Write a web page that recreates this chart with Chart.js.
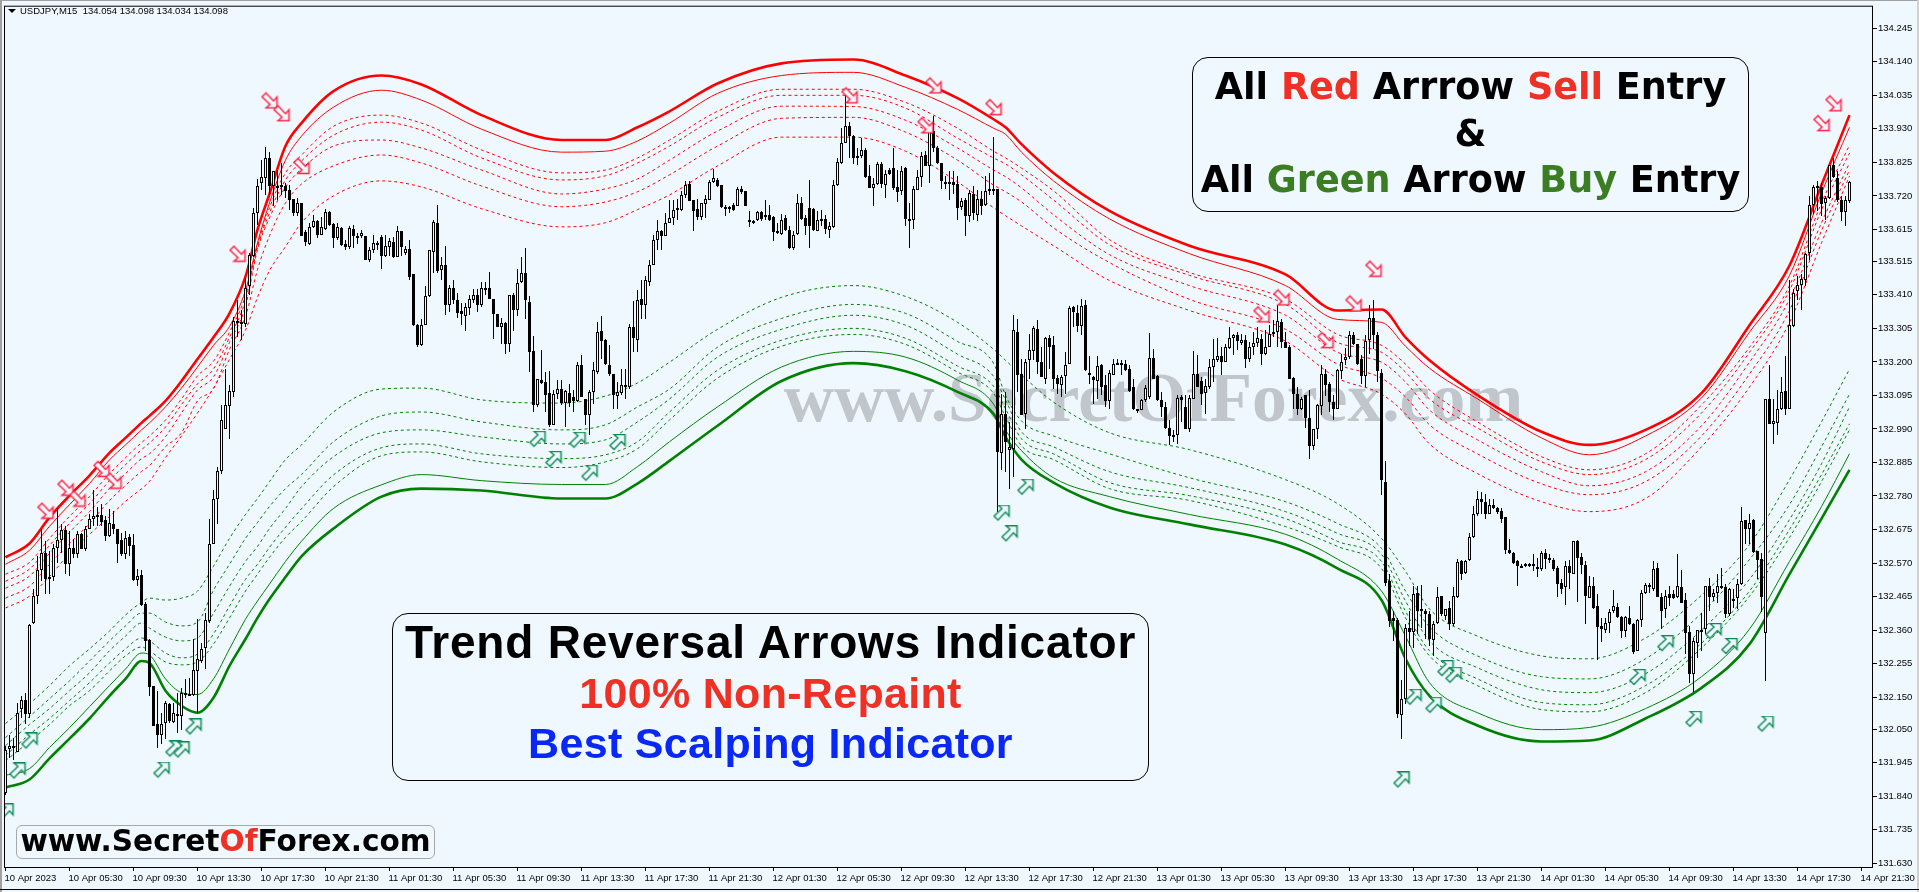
<!DOCTYPE html>
<html>
<head>
  <meta charset="UTF-8">
  <title>USDJPY M15 Trend Reversal Arrows</title>
  <script src="https://cdn.jsdelivr.net/npm/chart.js"></script>
  <style>
    html, body { margin: 0; height: 100%; overflow: hidden; background: #f0f8ff; }
    #wrap { position: relative; width: 1919px; height: 892px; background: #f0f8ff; }
    canvas#chart { position: absolute; left: 0; top: 0; }
    .edgeL { position: absolute; left: 0; top: 0; width: 2px; height: 892px; background: #a0a0a0; }
    .edgeR { position: absolute; left: 1917px; top: 0; width: 2px; height: 892px; background: #d0d0d0; }
    .edgeB { position: absolute; left: 0; top: 889px; width: 1919px; height: 1px; background: #000; }
    .edgeT { position: absolute; left: 0; top: 0; width: 1919px; height: 1px; background: #a0a0a0; }
    .watermark {
      position: absolute; left: 783px; top: 358px; width: 741px; text-align: center;
      font: bold 69.6px "Liberation Serif", serif; color: #c0c6cc; white-space: nowrap;
    }
    .box {
      position: absolute; box-sizing: border-box; border: 1px solid #000; border-radius: 16px;
      text-align: center; font-weight: bold; color: #000; white-space: nowrap;
    }
    #box1 { left: 1192px; top: 57px; width: 557px; height: 155px; font: bold 36.6px/46.5px "DejaVu Sans", sans-serif; padding-top: 6px; }
    #box2 { left: 392px; top: 613px; width: 757px; height: 168px; font: bold 46px/49.5px "Liberation Sans", sans-serif; letter-spacing: 0.8px; padding-top: 4px; }
    #box2 .s { font-size: 43px; letter-spacing: 0.3px; }
    #site {
      position: absolute; left: 16px; top: 825px; width: 419px; height: 34px; box-sizing: border-box;
      border: 1px solid #a8a8a8; border-radius: 6px; text-align: center;
      font: bold 29.6px/31px "DejaVu Sans", sans-serif; color: #000; white-space: nowrap;
    }
    .r { color: #ee3124; } .g { color: #3a7d23; } .b { color: #0a28f5; }
    #head { position: absolute; left: 20px; top: 5px; font: 9.5px "Liberation Sans", sans-serif; color: #000; white-space: pre; }
    #tri { position: absolute; left: 8px; top: 9px; width: 0; height: 0; border-left: 4px solid transparent; border-right: 4px solid transparent; border-top: 4px solid #000; }
  </style>
</head>
<body>
<div id="wrap">
  <div class="watermark">www.SecretOfForex.com</div>
  <canvas id="chart" width="1919" height="892"></canvas>
  <div class="edgeT"></div><div class="edgeL"></div><div class="edgeR"></div><div class="edgeB"></div>
  <div id="tri"></div>
  <div id="head">USDJPY,M15  134.054 134.098 134.034 134.098</div>
  <div class="box" id="box1">All <span class="r">Red</span> Arrrow <span class="r">Sell</span> Entry<br>&amp;<br>All <span class="g">Green</span> Arrow <span class="g">Buy</span> Entry</div>
  <div class="box" id="box2">Trend Reversal Arrows Indicator<br><span class="r s">100% Non-Repaint</span><br><span class="b s">Best Scalping Indicator</span></div>
  <div id="site">www.Secret<span class="r">Of</span>Forex.com</div>
</div>

<script>
// axis labels
const timeLabels = ['10 Apr 2023','10 Apr 05:30','10 Apr 09:30','10 Apr 13:30','10 Apr 17:30','10 Apr 21:30',
  '11 Apr 01:30','11 Apr 05:30','11 Apr 09:30','11 Apr 13:30','11 Apr 17:30','11 Apr 21:30',
  '12 Apr 01:30','12 Apr 05:30','12 Apr 09:30','12 Apr 13:30','12 Apr 17:30','12 Apr 21:30',
  '13 Apr 01:30','13 Apr 05:30','13 Apr 09:30','13 Apr 13:30','13 Apr 17:30','13 Apr 21:30',
  '14 Apr 01:30','14 Apr 05:30','14 Apr 09:30','14 Apr 13:30','14 Apr 17:30','14 Apr 21:30'];
const priceTicks = [134.245,134.140,134.035,133.930,133.825,133.720,133.615,133.515,133.410,133.305,133.200,133.095,132.990,
  132.885,132.780,132.675,132.570,132.465,132.360,132.255,132.150,132.050,131.945,131.840,131.735,131.630];

// candles
const highs = [
131.998,132.030,132.023,132.133,132.154,132.164,132.379,132.488,132.591,132.675,
132.638,132.607,132.628,132.741,132.691,132.685,132.669,132.644,132.669,132.663,
132.685,132.725,132.800,132.744,132.756,132.716,132.738,132.734,132.678,132.663,
132.669,132.660,132.660,132.550,132.547,132.447,132.332,132.186,132.170,132.101,
132.139,132.133,132.133,132.164,132.179,132.207,132.210,132.332,132.394,132.320,
132.413,132.709,132.800,132.872,133.065,133.177,133.127,133.340,133.393,133.364,
133.464,133.542,133.683,133.773,133.832,133.873,133.857,133.798,133.801,133.823,
133.761,133.754,133.711,133.714,133.698,133.614,133.636,133.661,133.645,133.655,
133.680,133.673,133.636,133.636,133.623,133.583,133.626,133.630,133.605,133.614,
133.595,133.561,133.598,133.580,133.598,133.598,133.589,133.592,133.626,133.611,
133.564,133.583,133.474,133.318,133.333,133.439,133.552,133.645,133.692,133.527,
133.564,133.442,133.458,133.417,133.386,133.386,133.411,133.427,133.427,133.449,
133.449,133.483,133.395,133.349,133.339,133.324,133.411,133.417,133.492,133.527,
133.558,133.405,133.280,133.146,133.236,133.168,133.171,133.112,133.143,133.143,
133.112,133.131,133.112,133.199,133.221,133.084,133.112,133.199,133.324,133.343,
133.271,133.252,133.162,133.137,133.177,133.177,133.318,133.392,133.424,133.455,
133.470,133.520,133.598,133.645,133.614,133.667,133.708,133.708,133.711,133.736,
133.767,133.767,133.708,133.711,133.698,133.723,133.770,133.804,133.776,133.754,
133.692,133.689,133.698,133.748,133.751,133.736,133.673,133.645,133.673,133.673,
133.708,133.692,133.658,133.636,133.664,133.661,133.626,133.611,133.726,133.717,
133.661,133.770,133.683,133.673,133.676,133.661,133.639,133.770,133.839,133.932,
134.048,133.951,133.910,133.870,133.901,133.870,133.817,133.776,133.826,133.826,
133.801,133.807,133.870,133.801,133.814,133.811,133.698,133.751,133.801,133.857,
133.860,133.932,133.970,133.876,133.823,133.782,133.798,133.798,133.782,133.714,
133.714,133.739,133.751,133.739,133.736,133.782,133.792,133.904,133.742,133.099,
133.106,133.012,133.346,133.333,133.209,133.209,133.286,133.311,133.330,133.246,
133.277,133.283,133.280,133.159,133.159,133.230,133.374,133.374,133.377,133.396,
133.393,133.218,133.155,133.218,133.193,133.159,133.174,133.209,133.209,133.205,
133.205,133.190,133.146,133.053,133.084,133.127,133.290,133.240,133.159,133.106,
133.074,133.018,132.987,133.096,133.096,133.096,133.096,133.233,133.221,133.152,
133.146,133.209,133.271,133.274,133.246,133.255,133.308,133.286,133.293,133.286,
133.283,133.261,133.293,133.308,133.286,133.299,133.315,133.330,133.377,133.333,
133.293,133.252,133.152,133.121,133.090,133.096,133.112,132.990,133.068,133.190,
133.177,133.137,133.096,133.177,133.224,133.243,133.296,133.293,133.255,133.221,
133.283,133.377,133.393,133.293,133.177,132.890,132.535,132.419,132.398,132.204,
132.379,132.419,132.497,132.497,132.501,132.426,132.419,132.388,132.494,132.466,
132.426,132.451,132.494,132.582,132.579,132.579,132.663,132.750,132.797,132.791,
132.787,132.772,132.769,132.744,132.741,132.713,132.644,132.603,132.579,132.566,
132.569,132.569,132.597,132.585,132.607,132.613,132.597,132.585,132.560,132.519,
132.575,132.579,132.638,132.641,132.600,132.575,132.529,132.525,132.472,132.398,
132.398,132.426,132.485,132.444,132.404,132.404,132.435,132.382,132.394,132.485,
132.507,132.507,132.575,132.569,132.476,132.485,132.497,132.485,132.597,132.547,
132.476,132.373,132.335,132.360,132.413,132.497,132.522,132.488,132.535,132.553,
132.504,132.491,132.488,132.519,132.747,132.706,132.725,132.709,132.607,132.600,
133.084,133.190,133.084,133.112,133.152,133.218,133.455,133.427,133.470,133.474,
133.542,133.720,133.754,133.767,133.761,133.720,133.817,133.839,133.798,133.720,133.720,133.767];

const lows = [
131.842,131.958,131.952,131.977,132.086,132.067,132.086,132.379,132.441,132.513,
132.472,132.472,132.513,132.569,132.600,132.535,132.529,132.585,132.585,132.613,
132.607,132.675,132.685,132.685,132.685,132.638,132.653,132.660,132.569,132.591,
132.582,132.591,132.513,132.497,132.435,132.295,132.154,132.061,131.992,132.004,
132.020,132.070,132.070,132.036,132.048,132.148,132.154,132.154,132.101,132.257,
132.238,132.382,132.628,132.691,132.850,132.990,132.959,133.090,133.277,133.268,
133.308,133.408,133.527,133.630,133.739,133.723,133.723,133.689,133.708,133.723,
133.714,133.676,133.658,133.658,133.595,133.564,133.567,133.620,133.589,133.598,
133.614,133.626,133.558,133.583,133.564,133.552,133.555,133.558,133.570,133.589,
133.520,133.514,133.542,133.549,133.492,133.527,133.533,133.524,133.527,133.533,
133.536,133.458,133.311,133.246,133.249,133.315,133.402,133.480,133.480,133.455,
133.346,133.355,133.380,133.339,133.315,133.296,133.346,133.386,133.355,133.371,
133.408,133.396,133.271,133.308,133.255,133.224,133.230,133.296,133.343,133.446,
133.333,133.168,133.043,133.059,133.131,133.043,132.996,133.003,133.084,133.065,
132.996,133.059,133.043,133.074,133.090,133.003,132.971,133.068,133.162,133.209,
133.190,133.155,133.053,133.053,133.096,133.084,133.115,133.230,133.230,133.333,
133.333,133.439,133.502,133.552,133.552,133.595,133.636,133.630,133.645,133.673,
133.714,133.704,133.611,133.645,133.645,133.651,133.708,133.761,133.748,133.683,
133.658,133.667,133.673,133.689,133.726,133.689,133.623,133.633,133.642,133.642,
133.645,133.642,133.580,133.602,133.598,133.611,133.555,133.552,133.598,133.645,
133.598,133.558,133.611,133.611,133.626,133.602,133.589,133.620,133.751,133.820,
133.885,133.839,133.820,133.817,133.839,133.776,133.745,133.689,133.754,133.745,
133.714,133.786,133.739,133.701,133.723,133.626,133.558,133.617,133.739,133.748,
133.814,133.761,133.857,133.820,133.742,133.742,133.708,133.726,133.645,133.676,
133.595,133.639,133.645,133.642,133.661,133.689,133.723,133.723,132.731,132.862,
132.856,132.803,132.840,133.106,133.034,132.990,133.146,133.205,133.162,133.152,
133.131,133.177,133.115,133.099,133.090,133.099,133.193,133.308,133.293,133.283,
133.171,133.131,133.068,133.084,133.096,133.059,133.053,133.159,133.190,133.159,
133.171,133.106,133.049,133.040,133.049,133.074,133.084,133.146,133.077,133.028,
132.990,132.940,132.950,132.943,133.012,132.990,132.981,133.084,133.121,133.065,
133.037,133.115,133.137,133.199,133.159,133.199,133.240,133.221,133.237,133.252,
133.180,133.199,133.221,133.246,133.190,133.221,133.246,133.277,133.246,133.243,
133.243,133.146,133.053,133.034,133.049,132.993,132.897,132.925,132.959,133.034,
133.093,133.043,133.018,133.053,133.146,133.190,133.209,133.252,133.190,133.131,
133.121,133.224,133.240,133.137,132.784,132.497,132.370,132.326,132.086,132.020,
132.129,132.310,132.304,132.348,132.366,132.332,132.310,132.279,132.379,132.404,
132.391,132.360,132.373,132.460,132.516,132.535,132.575,132.647,132.716,132.722,
132.709,132.722,132.738,132.722,132.694,132.597,132.597,132.566,132.497,132.553,
132.557,132.557,132.544,132.525,132.544,132.550,132.569,132.544,132.463,132.472,
132.438,132.488,132.535,132.447,132.535,132.379,132.460,132.426,132.267,132.323,
132.351,132.351,132.413,132.398,132.335,132.338,132.376,132.285,132.295,132.370,
132.472,132.476,132.482,132.463,132.363,132.398,132.435,132.457,132.460,132.444,
132.285,132.195,132.167,132.273,132.295,132.348,132.419,132.451,132.444,132.488,
132.398,132.404,132.429,132.426,132.501,132.628,132.628,132.600,132.519,132.416,
132.201,133.006,132.943,132.971,133.049,133.034,133.053,133.308,133.393,133.361,
133.439,133.520,133.664,133.673,133.658,133.645,133.711,133.776,133.701,133.642,133.626,133.698];

const opens = [
131.849,131.986,131.995,131.977,132.114,132.142,132.098,132.382,132.466,132.547,
132.600,132.519,132.525,132.616,132.641,132.672,132.566,132.616,132.597,132.660,
132.613,132.678,132.709,132.713,132.719,132.706,132.656,132.691,132.675,132.641,
132.597,132.650,132.625,132.516,132.532,132.441,132.329,132.186,132.067,132.030,
132.070,132.129,132.073,132.098,132.092,132.161,132.158,132.158,132.232,132.263,
132.304,132.388,132.631,132.772,132.859,132.990,133.062,133.106,133.327,133.321,
133.318,133.439,133.533,133.667,133.761,133.776,133.839,133.751,133.751,133.751,
133.751,133.739,133.711,133.667,133.698,133.608,133.570,133.623,133.642,133.598,
133.617,133.670,133.633,133.589,133.620,133.570,133.561,133.617,133.595,133.595,
133.595,133.520,133.549,133.570,133.592,133.533,133.561,133.577,133.530,133.611,
133.542,133.555,133.474,133.315,133.252,133.315,133.405,133.545,133.636,133.489,
133.505,133.377,133.430,133.393,133.358,133.343,133.368,133.393,133.411,133.377,
133.430,133.433,133.396,133.349,133.308,133.321,133.255,133.408,133.361,133.449,
133.480,133.389,133.234,133.065,133.143,133.137,133.102,133.003,133.099,133.115,
133.071,133.102,133.090,133.077,133.190,133.084,133.034,133.106,133.168,133.296,
133.268,133.190,133.162,133.093,133.102,133.124,133.121,133.308,133.268,133.396,
133.377,133.449,133.505,133.583,133.611,133.595,133.636,133.651,133.683,133.676,
133.723,133.757,133.708,133.680,133.655,133.695,133.708,133.764,133.770,133.754,
133.686,133.686,133.692,133.689,133.742,133.736,133.645,133.642,133.645,133.670,
133.661,133.661,133.655,133.611,133.602,133.651,133.614,133.558,133.602,133.698,
133.651,133.683,133.680,133.611,133.648,133.648,133.614,133.623,133.754,133.823,
133.885,133.938,133.907,133.845,133.845,133.864,133.782,133.745,133.757,133.820,
133.754,133.801,133.807,133.748,133.736,133.807,133.648,133.645,133.739,133.779,
133.848,133.814,133.923,133.870,133.823,133.764,133.764,133.764,133.757,133.686,
133.708,133.658,133.726,133.661,133.711,133.692,133.736,133.742,133.742,132.915,
133.037,132.925,132.928,133.293,133.162,133.037,133.205,133.233,133.302,133.199,
133.146,133.274,133.252,133.149,133.127,133.155,133.193,133.371,133.352,133.311,
133.377,133.165,133.152,133.140,133.190,133.127,133.077,133.159,133.193,133.196,
133.193,133.177,133.121,133.053,133.049,133.081,133.090,133.212,133.155,133.081,
133.059,132.993,132.971,132.971,133.090,133.059,132.990,133.084,133.162,133.140,
133.102,133.121,133.184,133.205,133.218,133.199,133.243,133.274,133.283,133.258,
133.268,133.209,133.246,133.258,133.271,133.224,133.246,133.290,133.293,133.324,
133.261,133.246,133.149,133.099,133.053,133.096,133.025,132.937,132.990,133.062,
133.162,133.131,133.074,133.053,133.171,133.205,133.215,133.283,133.255,133.209,
133.155,133.268,133.339,133.283,133.165,132.825,132.513,132.398,132.391,132.095,
132.145,132.366,132.354,132.476,132.426,132.419,132.410,132.329,132.382,132.466,
132.404,132.429,132.379,132.463,132.575,132.538,132.579,132.650,132.725,132.772,
132.762,132.725,132.753,132.741,132.734,132.713,132.610,132.600,132.575,132.560,
132.560,132.560,132.566,132.557,132.550,132.600,132.585,132.579,132.553,132.507,
132.494,132.560,132.535,132.638,132.588,132.563,132.460,132.497,132.435,132.373,
132.360,132.382,132.419,132.432,132.401,132.357,132.398,132.379,132.295,132.391,
132.476,132.501,132.488,132.553,132.463,132.426,132.472,132.472,132.463,132.494,
132.454,132.354,132.223,132.320,132.360,132.363,132.497,132.463,132.476,132.497,
132.494,132.410,132.454,132.460,132.504,132.706,132.675,132.706,132.607,132.582,
132.351,133.084,133.006,133.009,133.053,133.109,133.053,133.311,133.421,133.442,
133.458,133.542,133.692,133.751,133.748,133.698,133.714,133.817,133.776,133.708,133.670,133.704];

const closes = [
131.983,131.998,131.998,132.101,132.142,132.098,132.376,132.466,132.547,132.600,
132.519,132.525,132.616,132.641,132.672,132.566,132.616,132.597,132.660,132.613,
132.678,132.709,132.716,132.719,132.700,132.656,132.694,132.675,132.631,132.597,
132.647,132.622,132.516,132.529,132.438,132.326,132.182,132.061,132.030,132.067,
132.133,132.076,132.101,132.092,132.164,132.164,132.161,132.235,132.270,132.301,
132.391,132.631,132.769,132.859,133.018,133.065,133.109,133.327,133.321,133.324,
133.433,133.536,133.667,133.751,133.779,133.839,133.751,133.798,133.748,133.754,
133.736,133.708,133.667,133.698,133.595,133.577,133.623,133.642,133.598,133.623,
133.670,133.630,133.589,133.623,133.567,133.561,133.620,133.595,133.592,133.605,
133.520,133.552,133.573,133.573,133.533,133.564,133.580,133.527,133.611,133.561,
133.555,133.467,133.315,133.252,133.315,133.405,133.549,133.639,133.486,133.502,
133.377,133.430,133.393,133.352,133.349,133.371,133.396,133.411,133.377,133.433,
133.427,133.396,133.349,133.308,133.321,133.255,133.408,133.361,133.446,133.480,
133.393,133.230,133.065,133.146,133.134,133.096,133.003,133.099,133.115,133.071,
133.109,133.071,133.077,133.190,133.090,133.034,133.106,133.174,133.293,133.265,
133.193,133.162,133.096,133.106,133.127,133.127,133.308,133.274,133.393,133.377,
133.455,133.505,133.583,133.611,133.595,133.636,133.651,133.676,133.676,133.723,
133.754,133.704,133.673,133.655,133.698,133.711,133.764,133.776,133.751,133.686,
133.683,133.683,133.676,133.742,133.733,133.689,133.639,133.639,133.670,133.648,
133.658,133.645,133.608,133.608,133.645,133.614,133.558,133.598,133.698,133.648,
133.626,133.626,133.614,133.645,133.645,133.617,133.626,133.754,133.826,133.885,
133.938,133.907,133.839,133.839,133.864,133.779,133.745,133.757,133.820,133.757,
133.789,133.789,133.745,133.733,133.798,133.648,133.645,133.742,133.779,133.845,
133.814,133.923,133.870,133.823,133.767,133.761,133.761,133.754,133.683,133.704,
133.658,133.729,133.667,133.711,133.689,133.736,133.742,133.739,132.918,133.037,
132.950,132.934,133.299,133.159,133.034,133.199,133.236,133.305,133.199,133.152,
133.274,133.246,133.146,133.131,133.152,133.190,133.368,133.355,133.311,133.374,
133.174,133.159,133.143,133.187,133.121,133.077,133.165,133.193,133.196,133.193,
133.174,133.109,133.053,133.046,133.081,133.118,133.212,133.146,133.081,133.059,
132.993,132.968,132.965,133.087,133.081,132.990,133.087,133.162,133.121,133.099,
133.124,133.184,133.209,133.218,133.199,133.246,133.274,133.283,133.265,133.268,
133.209,133.246,133.258,133.274,133.224,133.246,133.286,133.293,133.327,133.261,
133.243,133.146,133.099,133.053,133.084,133.025,132.937,132.990,133.065,133.162,
133.127,133.074,133.053,133.174,133.199,133.215,133.283,133.255,133.193,133.155,
133.265,133.336,133.283,133.171,132.831,132.507,132.388,132.388,132.098,132.145,
132.366,132.354,132.472,132.419,132.419,132.410,132.332,132.379,132.463,132.410,
132.426,132.379,132.466,132.572,132.535,132.575,132.650,132.725,132.772,132.762,
132.725,132.753,132.741,132.731,132.709,132.610,132.600,132.569,132.560,132.557,
132.566,132.566,132.560,132.550,132.600,132.582,132.579,132.550,132.504,132.488,
132.560,132.538,132.638,132.585,132.563,132.466,132.497,132.429,132.370,132.363,
132.382,132.416,132.435,132.401,132.357,132.401,132.379,132.292,132.391,132.476,
132.501,132.497,132.550,132.463,132.419,132.466,132.460,132.460,132.497,132.444,
132.351,132.223,132.326,132.360,132.357,132.497,132.463,132.476,132.497,132.491,
132.410,132.488,132.457,132.504,132.703,132.675,132.694,132.603,132.579,132.463,
133.084,133.006,133.015,133.053,133.106,133.053,133.315,133.417,133.442,133.461,
133.539,133.692,133.748,133.745,133.695,133.714,133.817,133.779,133.708,133.670,133.708,133.764];

// indicator bands, sampled at these bars
const bandBars = [0,6,11,16,21,26,30,34,36,40,44,48,52,56,60,63,66,70,74,82,94,104,119,139,150,158,166,178,194,212,
  225,238,247,250,254,262,276,296,320,333,344,350,356,368,384,396,410,424,436,446,454,461];
const redOuter = [132.588,132.631,132.713,132.781,132.844,132.915,132.962,133.009,133.031,133.078,133.140,133.209,133.277,133.352,133.467,133.614,133.726,133.876,133.948,134.048,
  134.097,134.069,133.973,133.895,133.895,133.935,133.985,134.072,134.135,134.147,134.097,134.026,133.960,133.935,133.882,133.792,133.673,133.564,133.474,133.361,
  133.364,133.277,133.205,133.096,132.981,132.940,132.987,133.102,133.315,133.502,133.754,133.973];
const redInner = [132.566,132.610,132.685,132.753,132.819,132.893,132.940,132.987,133.009,133.059,133.118,133.184,133.252,133.311,133.424,133.573,133.698,133.832,133.907,133.998,
  134.051,134.020,133.929,133.857,133.860,133.892,133.948,134.041,134.097,134.107,134.060,133.991,133.932,133.913,133.857,133.767,133.648,133.539,133.439,133.333,
  133.324,133.249,133.180,133.084,132.962,132.909,132.968,133.087,133.293,133.471,133.729,133.935];
const redDash1 = [132.535,132.572,132.647,132.716,132.778,132.850,132.900,132.947,132.968,133.018,133.084,133.156,133.202,133.293,133.408,133.564,133.683,133.792,133.848,133.938,
  133.973,133.948,133.864,133.792,133.801,133.839,133.895,133.985,134.054,134.054,134.013,133.932,133.860,133.839,133.807,133.736,133.583,133.480,133.396,133.286,
  133.252,133.193,133.112,133.012,132.903,132.862,132.912,133.065,133.246,133.439,133.698,133.879];
const redDash2 = [132.513,132.551,132.625,132.694,132.756,132.828,132.878,132.925,132.946,132.996,133.066,133.131,133.178,133.277,133.392,133.558,133.667,133.770,133.829,133.910,
  133.951,133.926,133.839,133.770,133.783,133.823,133.876,133.966,134.035,134.035,133.995,133.901,133.839,133.820,133.786,133.707,133.567,133.471,133.380,133.261,
  133.230,133.168,133.084,132.993,132.887,132.847,132.894,133.040,133.230,133.424,133.676,133.854];
const redDash3 = [132.491,132.529,132.600,132.666,132.731,132.803,132.850,132.897,132.912,132.966,133.040,133.112,133.153,133.261,133.374,133.552,133.651,133.748,133.804,133.876,
  133.895,133.870,133.801,133.726,133.742,133.773,133.832,133.923,134.001,134.000,133.957,133.870,133.801,133.780,133.745,133.661,133.536,133.439,133.346,133.230,
  133.199,133.137,133.049,132.956,132.856,132.812,132.856,133.000,133.199,133.396,133.636,133.823];
const redDash4 = [132.460,132.497,132.566,132.631,132.694,132.766,132.813,132.857,132.875,132.934,132.978,133.078,133.116,133.239,133.342,133.489,133.595,133.698,133.757,133.814,
  133.848,133.823,133.751,133.686,133.701,133.733,133.786,133.876,133.963,133.966,133.920,133.832,133.754,133.733,133.701,133.620,133.511,133.396,133.302,133.193,
  133.149,133.090,133.003,132.912,132.818,132.784,132.825,132.968,133.162,133.361,133.611,133.801];
const redDash5 = [132.429,132.466,132.528,132.600,132.660,132.716,132.763,132.803,132.826,132.900,132.968,133.040,133.118,133.208,133.299,133.402,133.486,133.561,133.636,133.720,
  133.767,133.748,133.680,133.623,133.636,133.677,133.723,133.814,133.904,133.904,133.860,133.764,133.683,133.658,133.626,133.564,133.455,133.361,133.265,133.149,
  133.099,133.037,132.943,132.850,132.762,132.731,132.772,132.934,133.121,133.324,133.573,133.782];
const greenOuter = [131.867,131.892,131.958,132.020,132.083,132.154,132.207,132.263,132.257,132.170,132.123,132.101,132.148,132.248,132.332,132.398,132.457,132.526,132.591,132.678,
  132.778,132.803,132.797,132.772,132.772,132.819,132.890,133.000,133.140,133.196,133.171,133.106,133.037,132.965,132.894,132.822,132.744,132.691,132.628,132.553,
  132.454,132.270,132.154,132.061,132.011,132.014,132.083,132.179,132.316,132.535,132.709,132.862];
const greenInner = [131.905,131.926,131.992,132.054,132.120,132.186,132.238,132.288,132.282,132.207,132.164,132.158,132.207,132.301,132.394,132.451,132.504,132.575,132.638,132.741,
  132.815,132.847,132.828,132.816,132.816,132.872,132.950,133.059,133.184,133.233,133.215,133.143,133.068,132.987,132.922,132.837,132.778,132.722,132.660,132.582,
  132.482,132.341,132.195,132.101,132.048,132.055,132.114,132.214,132.363,132.575,132.747,132.912];
const greenDash1 = [132.067,132.129,132.186,132.248,132.301,132.357,132.407,132.447,132.460,132.454,132.460,132.482,132.560,132.647,132.722,132.772,132.825,132.894,132.940,133.043,
  133.115,133.118,133.081,133.071,133.093,133.134,133.199,133.302,133.402,133.439,133.405,133.324,133.240,133.205,133.159,133.074,132.978,132.925,132.831,132.756,
  132.647,132.544,132.426,132.341,132.279,132.270,132.335,132.469,132.628,132.831,133.012,133.177];
const greenDash2 = [132.023,132.089,132.145,132.201,132.263,132.326,132.373,132.413,132.413,132.385,132.373,132.385,132.485,132.566,132.647,132.697,132.747,132.803,132.847,132.950,
  133.031,133.043,133.012,132.987,133.003,133.059,133.115,133.246,133.336,133.380,133.352,133.264,133.196,133.096,133.015,132.968,132.912,132.837,132.762,132.694,
  132.616,132.482,132.370,132.279,132.214,132.207,132.270,132.413,132.581,132.753,132.934,133.099];
const greenDash3 = [131.998,132.064,132.114,132.170,132.226,132.295,132.341,132.382,132.366,132.338,132.326,132.335,132.413,132.497,132.575,132.622,132.678,132.741,132.809,132.903,
  132.978,132.987,132.965,132.943,132.956,133.012,133.084,133.215,133.302,133.346,133.315,133.224,133.155,133.081,132.981,132.934,132.856,132.806,132.731,132.663,
  132.597,132.451,132.326,132.242,132.173,132.164,132.223,132.360,132.519,132.706,132.881,133.059];
const greenDash4 = [131.967,132.033,132.083,132.139,132.195,132.257,132.301,132.335,132.326,132.288,132.273,132.285,132.348,132.435,132.519,132.566,132.619,132.682,132.740,132.846,
  132.931,132.943,132.912,132.897,132.909,132.950,133.043,133.174,133.268,133.305,133.274,133.187,133.124,133.053,132.959,132.912,132.822,132.781,132.709,132.638,
  132.575,132.419,132.295,132.207,132.133,132.126,132.186,132.319,132.482,132.675,132.847,133.006];
const greenDash5 = [131.951,132.011,132.064,132.123,132.170,132.232,132.279,132.307,132.295,132.260,132.251,132.260,132.316,132.398,132.482,132.535,132.588,132.650,132.700,132.809,
  132.906,132.918,132.887,132.869,132.887,132.928,133.018,133.149,133.249,133.286,133.255,133.168,133.102,133.028,132.937,132.894,132.803,132.766,132.684,132.622,
  132.553,132.398,132.279,132.186,132.111,132.104,132.164,132.304,132.466,132.650,132.825,132.987];

// arrow signals
const sellBars = [10,15,18,24,27,58,66,69,74,211,230,232,247,314,319,330,337,342,454,457];
const sellPrices = [132.734,132.806,132.772,132.865,132.828,133.539,134.019,133.979,133.814,134.035,133.941,134.066,133.998,133.349,133.402,133.268,133.383,133.492,133.948,134.010];
const buyBars = [0,3,6,39,42,44,47,133,137,143,146,153,249,251,255,349,352,357,360,362,408,415,422,427,431,440];
const buyPrices = [131.789,131.917,132.011,131.920,131.986,131.983,132.055,132.956,132.893,132.953,132.850,132.946,132.725,132.660,132.806,131.889,132.148,132.123,132.238,132.217,132.210,132.316,132.079,132.354,132.307,132.064];

const BG = '#f0f8ff';
const SELL_ARROW = [[16,16],[16,5],[12.5,9],[5,1],[1,5],[9,12.5],[5,16]];
const BUY_ARROW = [[16,0],[16,11],[12.5,7],[5,15],[1,11],[9,3.5],[5,0]];

function arrowSprite(shape, color) {
  const c = document.createElement('canvas');
  c.width = 18; c.height = 18;
  const g = c.getContext('2d');
  g.beginPath();
  shape.forEach(([x, y], i) => i ? g.lineTo(x + 0.5, y + 0.5) : g.moveTo(x + 0.5, y + 0.5));
  g.closePath();
  g.fillStyle = BG; g.fill();
  g.strokeStyle = color; g.lineWidth = 1.4; g.stroke();
  return c;
}

function bandLine(values, color, width, dash) {
  return {
    type: 'line', order: 5,
    data: values.map((v, i) => ({ x: bandBars[i], y: v })),
    borderColor: color, borderWidth: width, borderDash: dash || [],
    pointRadius: 0, cubicInterpolationMode: 'monotone', fill: false
  };
}

const DOT = [3, 3];
const datasets = [
  { type: 'line', order: 1, showLine: false, pointRadius: 8, pointStyle: arrowSprite(SELL_ARROW, '#ff2040'),
    data: sellBars.map((b, i) => ({ x: b, y: sellPrices[i] })) },
  { type: 'line', order: 1, showLine: false, pointRadius: 8, pointStyle: arrowSprite(BUY_ARROW, '#0a8a50'),
    data: buyBars.map((b, i) => ({ x: b, y: buyPrices[i] })) },
  // bodies over wicks
  { type: 'bar', order: 2, grouped: false, barThickness: 3, borderWidth: 1, borderColor: '#000', borderSkipped: false, inflateAmount: 0,
    backgroundColor: opens.map((o, i) => closes[i] >= o ? BG : '#000'),
    data: opens.map((o, i) => ({ x: i, y: [o, closes[i]] })) },
  { type: 'bar', order: 3, grouped: false, barThickness: 1, borderWidth: 0, inflateAmount: 0, backgroundColor: '#000',
    data: highs.map((h, i) => ({ x: i, y: [lows[i], h] })) },
  bandLine(redOuter, '#ff0000', 2.6), bandLine(redInner, '#ff0000', 1),
  bandLine(redDash1, '#ff0000', 1, DOT), bandLine(redDash2, '#ff0000', 1, DOT), bandLine(redDash3, '#ff0000', 1, DOT),
  bandLine(redDash4, '#ff0000', 1, DOT), bandLine(redDash5, '#ff0000', 1, DOT),
  bandLine(greenOuter, '#008000', 2.6), bandLine(greenInner, '#008000', 1),
  bandLine(greenDash1, '#008000', 1, DOT), bandLine(greenDash2, '#008000', 1, DOT), bandLine(greenDash3, '#008000', 1, DOT),
  bandLine(greenDash4, '#008000', 1, DOT), bandLine(greenDash5, '#008000', 1, DOT)
];

// keep candles on whole pixels, and draw the frame round the plot
const crispCandles = {
  id: 'crispCandles',
  beforeDatasetsDraw(chart) {
    chart.data.datasets.forEach((ds, k) => {
      if (ds.type !== 'bar') return;
      chart.getDatasetMeta(k).data.forEach(el => {
        const top = Math.round(Math.min(el.y, el.base));
        let bottom = Math.round(Math.max(el.y, el.base));
        if (bottom - top < 2) bottom = top + 2;
        el.y = top; el.base = bottom;
      });
    });
  }
};
const frame = {
  id: 'frame',
  afterDraw(chart) {
    const g = chart.ctx, a = chart.chartArea;
    g.save();
    g.strokeStyle = '#000'; g.lineWidth = 1;
    g.strokeRect(a.left - 0.5, a.top - 0.5, a.right - a.left, a.bottom - a.top + 1);
    g.restore();
  }
};

const tickFont = { family: '"Liberation Sans", sans-serif', size: 9.5 };
new Chart(document.getElementById('chart'), {
  type: 'bar',
  data: { datasets },
  plugins: [crispCandles, frame],
  options: {
    responsive: false, animation: false, events: [],
    layout: { autoPadding: false, padding: { left: 5, top: 3, right: 0, bottom: 0 } },
    plugins: { legend: { display: false }, tooltip: { enabled: false } },
    scales: {
      x: {
        type: 'linear', offset: false, min: -0.125, max: 466.875,
        afterBuildTicks(s) { s.ticks = timeLabels.map((_, i) => ({ value: i * 16 })); },
        afterFit(s) { s.height = 25; },
        grid: { drawOnChartArea: false, offset: false, color: '#000', tickLength: 4 },
        border: { display: false },
        ticks: { autoSkip: false, maxRotation: 0, align: 'start', labelOffset: -1, padding: 2, color: '#000', font: tickFont,
          callback: (v, i) => timeLabels[i] }
      },
      y: {
        position: 'right', min: 131.6178, max: 134.3126,
        afterBuildTicks(s) { s.ticks = priceTicks.map(v => ({ value: v })); },
        afterFit(s) { s.width = 46; },
        grid: { drawOnChartArea: false, color: '#000', tickLength: 4 },
        border: { display: false },
        ticks: { autoSkip: false, padding: 1, color: '#000', font: tickFont, callback: v => v.toFixed(3) }
      }
    }
  }
});
</script>
</body>
</html>
